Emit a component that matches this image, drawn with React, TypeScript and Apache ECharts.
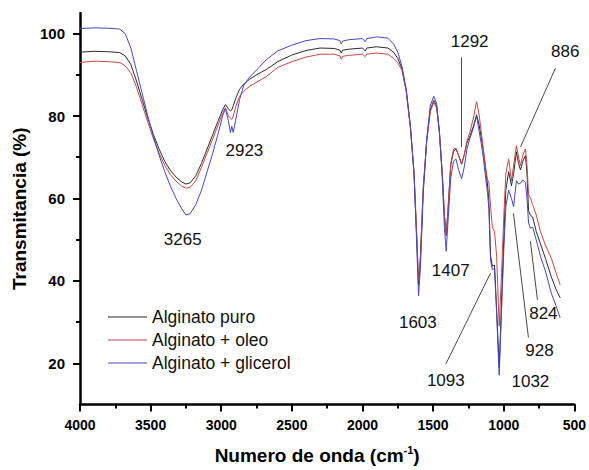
import React, { useEffect, useRef } from "react";
import * as echarts from "echarts";

const wavenumbers = [
  4000, 3900, 3800, 3720, 3680, 3640, 3600, 3560, 3520, 3480,
  3440, 3400, 3360, 3320, 3280, 3250, 3220, 3180, 3140, 3100,
  3060, 3020, 2990, 2970, 2950, 2935, 2925, 2915, 2895, 2870,
  2840, 2800, 2740, 2680, 2600, 2500, 2400, 2300, 2200, 2160,
  2150, 2140, 2100, 2000, 1980, 1970, 1900, 1820, 1780, 1750,
  1720, 1690, 1660, 1635, 1615, 1603, 1590, 1570, 1545, 1520,
  1495, 1475, 1455, 1435, 1420, 1407, 1395, 1375, 1355, 1338,
  1320, 1298, 1280, 1260, 1240, 1215, 1192, 1175, 1160, 1145,
  1128, 1115, 1105, 1093, 1080, 1065, 1050, 1032, 1015, 1000,
  985, 965, 945, 930, 910, 895, 881, 865, 846, 835,
  824, 811, 795, 770, 740, 705, 663, 630, 600,
];

const alginatoPuro = [
  95.5, 95.7, 95.6, 95.4, 94.6, 92.5, 88.5, 84.0, 79.5, 75.5,
  72.0, 69.0, 66.8, 65.2, 64.0, 63.5, 63.8, 65.5, 68.5, 72.0,
  75.5, 79.0, 81.5, 82.8, 81.8, 81.2, 81.5, 82.5, 84.5, 86.5,
  87.8, 88.9, 90.2, 91.3, 93.2, 94.8, 95.9, 96.5, 96.4, 96.0,
  95.3, 96.0, 96.2, 96.5, 95.8, 96.5, 96.8, 96.5, 95.5, 94.0,
  91.5, 86.0, 77.0, 66.0, 50.0, 39.0, 45.0, 62.0, 74.0, 81.5,
  83.8, 82.5, 76.0, 66.0, 56.0, 51.0, 57.0, 68.0, 71.5, 72.0,
  70.5, 68.3, 70.5, 73.5, 75.0, 77.5, 80.3, 78.0, 75.0, 72.0,
  67.0, 63.5, 59.5, 46.0, 43.6, 43.8, 33.0, 19.0, 35.0, 50.0,
  62.0, 66.5, 63.1, 66.0, 71.3, 68.5, 66.9, 69.0, 70.4, 66.0,
  57.0, 55.9, 55.5, 52.0, 49.0, 45.5, 41.0, 38.0, 35.9,
];

const alginatoOleo = [
  93.0, 93.3, 93.2, 93.0, 92.2, 90.5, 87.0, 82.8, 78.5, 74.5,
  71.0, 68.0, 65.8, 64.2, 63.0, 62.5, 62.7, 64.3, 67.5, 71.0,
  74.5, 78.0, 80.8, 82.0, 80.0, 79.5, 79.2, 80.0, 82.5, 84.8,
  86.0, 87.2, 88.4, 89.6, 91.8, 93.2, 94.3, 95.0, 95.0, 94.6,
  93.8, 94.5, 94.7, 95.0, 94.4, 95.0, 95.3, 95.0, 94.0, 93.0,
  91.0, 86.0, 77.0, 66.5, 50.5, 40.0, 46.0, 62.5, 74.0, 81.0,
  83.3, 82.0, 76.0, 66.0, 56.0, 51.2, 57.0, 68.5, 72.0, 72.2,
  70.5, 68.3, 70.5, 74.0, 76.0, 79.5, 83.5, 80.5, 76.5, 72.0,
  67.5, 64.5, 64.0, 58.0, 53.0, 52.0, 46.0, 29.0, 42.0, 55.0,
  66.0, 69.6, 64.3, 68.0, 72.8, 70.0, 68.0, 70.5, 72.0, 68.0,
  61.0, 60.0, 58.5, 56.0, 52.0, 48.7, 45.5, 42.0, 39.0,
];

const alginatoGlicerol = [
  101.2, 101.4, 101.3, 101.1, 100.0, 96.5, 91.0, 85.5, 80.0, 75.0,
  70.5, 66.5, 63.0, 60.0, 57.5, 56.0, 56.3, 58.5, 62.0, 66.5,
  71.0, 76.0, 80.0, 81.8, 79.0, 76.0, 77.5, 76.0, 79.5, 84.0,
  87.5, 89.4, 91.5, 93.7, 95.8, 97.2, 98.3, 98.8, 98.7, 98.3,
  97.5, 98.2, 98.5, 98.8, 98.0, 98.8, 99.2, 98.9, 97.5, 95.5,
  92.0, 86.5, 77.5, 66.0, 48.0, 36.4, 43.0, 61.0, 74.5, 82.5,
  84.8, 83.0, 76.0, 65.0, 53.0, 47.2, 54.0, 65.0, 69.0, 69.6,
  67.0, 64.8, 67.5, 72.0, 74.5, 77.0, 80.0, 76.5, 73.5, 70.0,
  65.0, 61.5, 57.5, 45.0, 42.7, 43.0, 32.0, 17.1, 33.0, 47.0,
  58.0, 62.0, 60.0, 58.0, 64.3, 63.5, 63.7, 64.5, 63.9, 60.0,
  54.0, 52.8, 53.0, 50.0, 46.0, 42.4, 37.0, 34.0, 31.0,
];

const seriesNames = ["Alginato puro", "Alginato + oleo", "Alginato + glicerol"];
const seriesColors = ["#2b2b2b", "#cc4444", "#4646c0"];

const yMajorTicks = [20, 40, 60, 80, 100];
const yMinorTicks = [30, 50, 70, 90];

// peak annotations: label text and where the label sits (data coordinates)
const annotLabels = ["3265", "2923", "1292", "886", "1407", "1603", "1093", "1032", "928", "824"];
const annotX = [3273, 2836, 1241, 564, 1375, 1608, 1410, 811, 747, 719];
const annotY = [50.1, 71.6, 98.1, 95.7, 42.4, 29.9, 15.9, 15.7, 23.1, 32.0];

// leader lines: [x1, y1, x2, y2] in data coordinates
const leaderLines = [
  [1298, 94.2, 1298, 72.5],
  [634, 91.6, 881, 72.5],
  [1410, 19.8, 1093, 41.9],
  [931, 56.4, 825, 26.3],
  [811, 49.6, 761, 35.4],
];

const FONT = "'Liberation Sans', Arial, Helvetica, sans-serif";

export default function App() {
  const ref = useRef<HTMLDivElement>(null);

  useEffect(() => {
    document.body.style.margin = "0";
    if (!ref.current) return;
    const chart = echarts.init(ref.current, undefined, { renderer: "svg" });

    const yValues = [alginatoPuro, alginatoOleo, alginatoGlicerol];
    const lineSeries = seriesNames.map((name, i) => ({
      name,
      type: "line",
      data: wavenumbers.map((w, k) => [w, yValues[i][k]]),
      symbol: "none",
      showSymbol: false,
      lineStyle: { width: 1, color: seriesColors[i] },
      itemStyle: { color: seriesColors[i] },
      z: 3 + i,
    }));

    const option = {
      animation: false,
      backgroundColor: "#fff",
      textStyle: { fontFamily: FONT },
      grid: { left: 80, right: 13, top: 13, bottom: 63, containLabel: false },
      legend: {
        data: seriesNames,
        orient: "vertical",
        left: 108,
        top: 308,
        icon: "rect",
        itemWidth: 39,
        itemHeight: 1.2,
        itemGap: 5,
        padding: 0,
        textStyle: { fontSize: 17.5, color: "#111", fontFamily: FONT, lineHeight: 17.5, height: 17.5 },
      },
      xAxis: [
        {
          type: "value",
          min: 500,
          max: 4000,
          interval: 500,
          inverse: true,
          name: "{t|Numero de onda (cm}{sup|-1}{t|)}",
          nameLocation: "middle",
          nameGap: 40,
          nameTextStyle: {
            padding: [0, 20, 0, 0],
            rich: {
              t: { fontSize: 19, fontWeight: "bold", color: "#000", fontFamily: FONT, lineHeight: 22 },
              sup: { fontSize: 11, fontWeight: "bold", color: "#000", fontFamily: FONT, lineHeight: 12, verticalAlign: "top" },
            },
          },
          axisLine: { show: true, onZero: false, lineStyle: { color: "#000", width: 2.5 } },
          axisTick: { show: true, inside: false, length: 7, lineStyle: { color: "#000", width: 2 } },
          minorTick: { show: true, splitNumber: 2, length: 4, lineStyle: { color: "#000", width: 2 } },
          axisLabel: {
            fontSize: 14,
            fontWeight: "bold",
            color: "#000",
            margin: 13,
            fontFamily: FONT,
            formatter: (v: number) => String(v),
          },
          splitLine: { show: false },
          minorSplitLine: { show: false },
        },
      ],
      yAxis: [
        {
          type: "value",
          min: 10,
          max: 105,
          position: "left",
          name: "Transmitancia (%)",
          nameLocation: "middle",
          nameGap: 50,
          nameRotate: 90,
          nameTextStyle: { fontSize: 19, fontWeight: "bold", color: "#000", fontFamily: FONT },
          axisLine: { show: true, onZero: false, lineStyle: { color: "#000", width: 2.5 } },
          axisTick: { show: true, inside: false, length: 7, lineStyle: { color: "#000", width: 2 }, customValues: yMajorTicks },
          axisLabel: {
            fontSize: 15,
            fontWeight: "bold",
            color: "#000",
            margin: 15,
            fontFamily: FONT,
            customValues: yMajorTicks,
            formatter: (v: number) => String(v),
          },
          splitLine: { show: false },
        },
        {
          type: "value",
          min: 10,
          max: 105,
          position: "left",
          offset: 0,
          axisLine: { show: false },
          axisTick: { show: true, inside: false, length: 4, lineStyle: { color: "#000", width: 2 }, customValues: yMinorTicks },
          axisLabel: { show: false, customValues: yMinorTicks },
          splitLine: { show: false },
        },
      ],
      series: [
        ...lineSeries,
        {
          name: "annotations",
          type: "scatter",
          symbolSize: 0,
          silent: true,
          z: 10,
          itemStyle: { opacity: 1 },
          data: annotLabels.map((l, i) => [annotX[i], annotY[i], l]),
          label: {
            show: true,
            position: "inside",
            formatter: (p: any) => p.value[2],
            fontSize: 17,
            color: "#111",
            fontFamily: FONT,
          },
          markLine: {
            silent: true,
            symbol: ["none", "none"],
            animation: false,
            label: { show: false },
            lineStyle: { color: "#333", width: 0.9, type: "solid", opacity: 1 },
            data: leaderLines.map((l) => [
              { coord: [l[0], l[1]] },
              { coord: [l[2], l[3]] },
            ]),
          },
        },
      ],
    };

    chart.setOption(option as any);
    return () => chart.dispose();
  }, []);

  return <div ref={ref} style={{ width: 589, height: 470 }} />;
}
